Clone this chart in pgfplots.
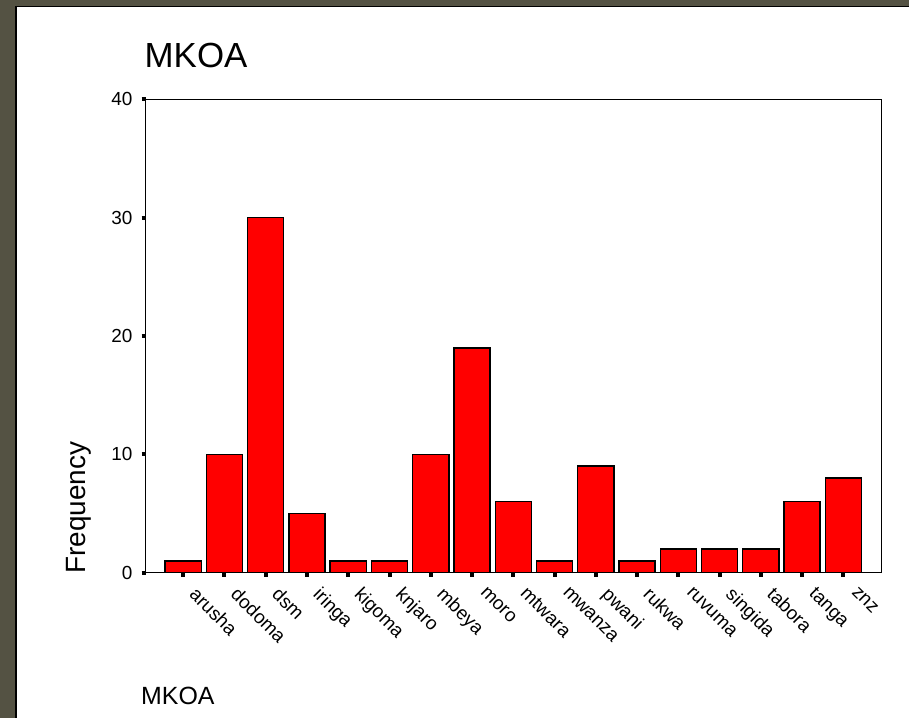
\documentclass[border=0pt]{standalone}
\usepackage{pgfplots}
\pgfplotsset{compat=1.18}
\usepackage{fontspec}
\setmainfont{Liberation Sans}
\definecolor{frame}{RGB}{84,82,67}
\begin{document}
\begin{tikzpicture}[x=1bp,y=1bp]
\useasboundingbox (0,0) rectangle (909,718);
\fill[frame] (0,0) rectangle (909,718);
\fill[white] (16.5,0) rectangle (909,710.5);
\draw[black, line width=1.6bp] (15.7,0) -- (15.7,711.3) -- (909,711.3);
\begin{axis}[
  at={(145.7bp,145.3bp)}, anchor=south west,
  scale only axis, width=736bp, height=473.4bp,
  xmin=-0.909, xmax=16.93, ymin=0, ymax=40,
  xtick={0,...,16},
  xticklabels={arusha,dodoma,dsm,iringa,kigoma,knjaro,mbeya,moro,mtwara,mwanza,pwani,rukwa,ruvuma,singida,tabora,tanga,znz},
  ytick={0,10,20,30,40},
  tick align=outside, xtick pos=bottom, ytick pos=left,
  major tick length=4bp,
  major tick style={black, line width=4bp},
  axis line style={line width=1.3bp},
  tick label style={font=\fontsize{19}{22}\selectfont},
  /pgf/number format/assume math mode=true,
  xticklabel style={xshift=15bp, yshift=-9bp, rotate=-45, anchor=north west, inner sep=0pt},
  yticklabel style={anchor=east, inner sep=0pt, xshift=-9bp},
  ybar, bar width=0.875, bar shift=0,
]
\addplot[fill=red, draw=black, line width=1.4bp] coordinates {
(0,1) (1,10) (2,30) (3,5) (4,1) (5,1) (6,10) (7,19) (8,6) (9,1) (10,9) (11,1) (12,2) (13,2) (14,2) (15,6) (16,8)};
\end{axis}
\node[anchor=base west, inner sep=0, font=\fontsize{35}{40}\selectfont] at (144.5,650) {MKOA};
\node[anchor=base west, inner sep=0, font=\fontsize{25}{30}\selectfont] at (141,13) {MKOA};
\node[rotate=90, anchor=base west, inner sep=0, font=\fontsize{28}{32}\selectfont] at (85,144) {Frequency};
\end{tikzpicture}
\end{document}
